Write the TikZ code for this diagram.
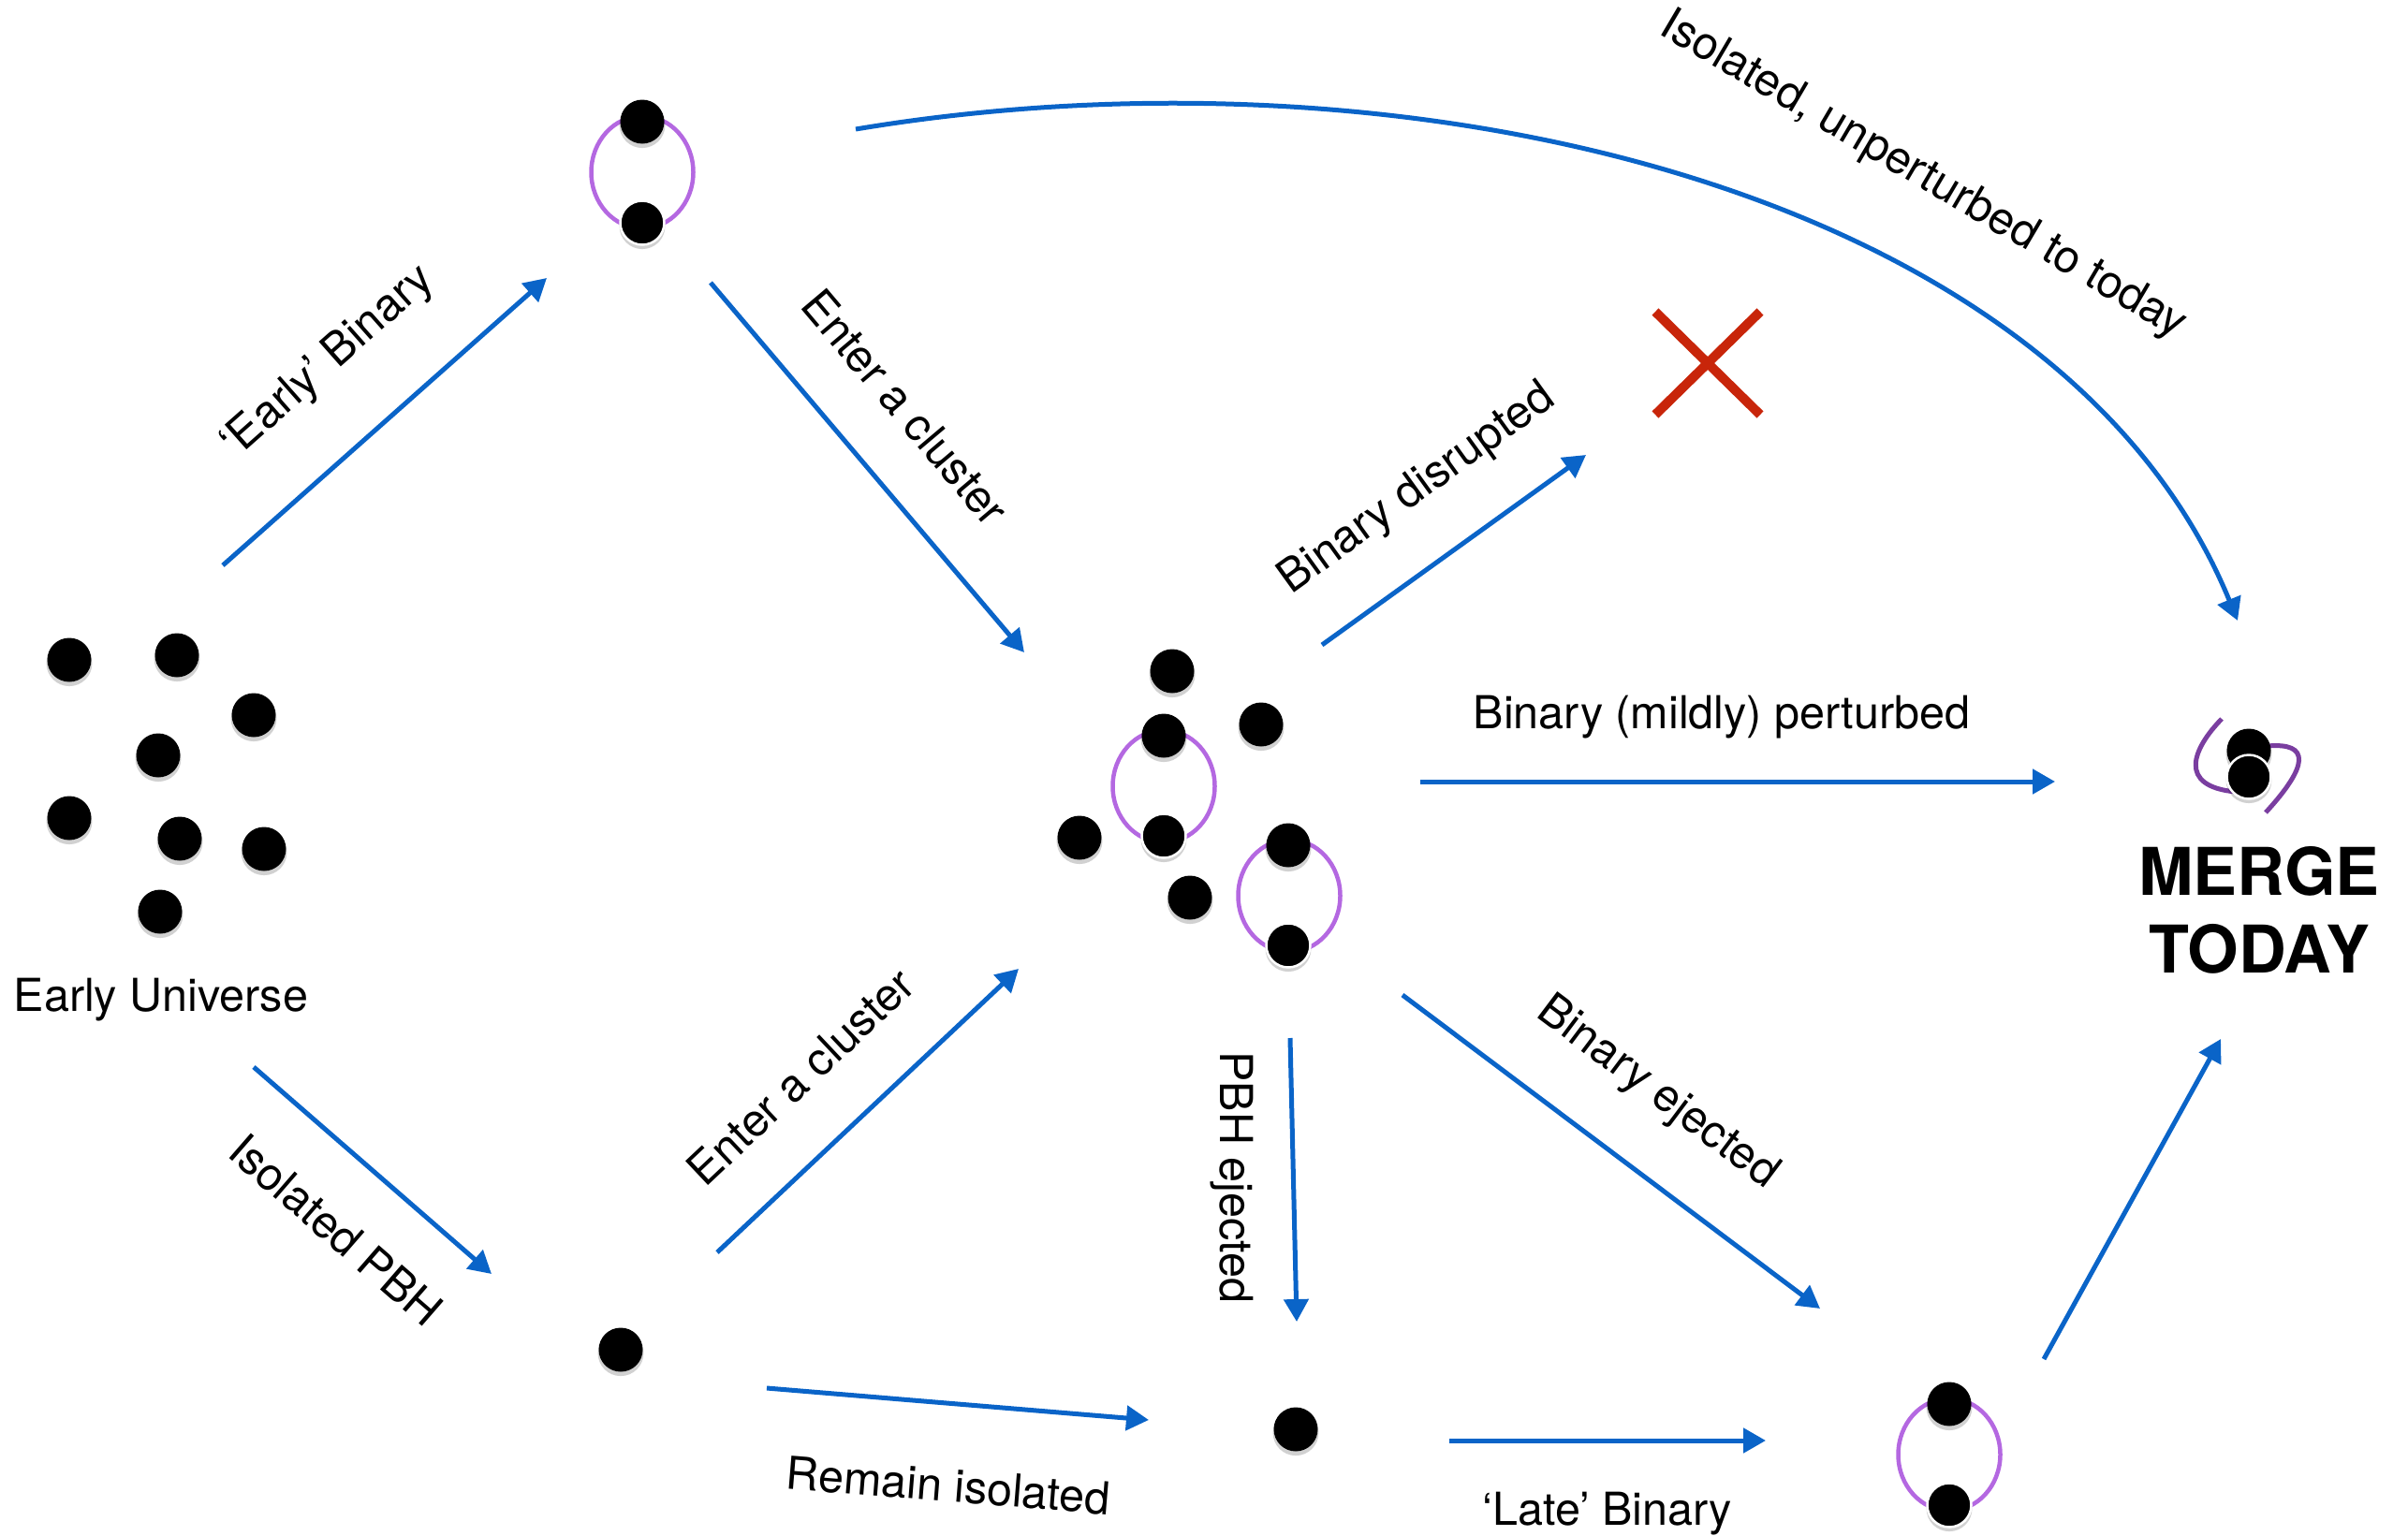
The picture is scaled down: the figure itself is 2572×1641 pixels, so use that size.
\documentclass[tikz,border=0pt]{standalone}
\usepackage{fontspec}
\setmainfont{TeX Gyre Heros}
\usetikzlibrary{arrows.meta,shapes.geometric,shadows}
\definecolor{arrowblue}{RGB}{10,100,200}
\definecolor{ringpurple}{RGB}{180,104,225}
\definecolor{mergepurple}{RGB}{122,62,160}
\definecolor{crossred}{RGB}{200,37,10}
\begin{document}
\begin{tikzpicture}[x=0.1mm,y=-0.1mm,
  pbh/.style={circle, fill=black, inner sep=0pt, minimum size=4.7mm,
    general shadow={fill=black, opacity=0.18, shadow yshift=-0.35mm, shadow scale=1.04}},
  pbhw/.style={pbh, draw=white, line width=0.25mm},
  ring/.style={ellipse, draw=ringpurple, line width=0.45mm, minimum width=10.9mm, minimum height=12mm, inner sep=0pt},
  flow/.style={draw=arrowblue, line width=0.5mm, -{Triangle[length=2.4mm,width=2.6mm]}},
  lbl/.style={font=\fontsize{13.8pt}{16.5pt}\selectfont, inner sep=0pt},
  mergearc/.style={draw=mergepurple, line width=0.5mm},
  cross/.style={draw=crossred, line width=1mm},
]
\useasboundingbox (0,0) rectangle (2572,1641);

% Early universe
\node[pbh] (eu1) at (74,705) {};
\node[pbh] (eu2) at (189,700) {};
\node[pbh] (eu3) at (271,764) {};
\node[pbh] (eu4) at (169,807) {};
\node[pbh] (eu5) at (74,874) {};
\node[pbh] (eu6) at (192,896) {};
\node[pbh] (eu7) at (282,907) {};
\node[pbh] (eu8) at (171,974) {};
\node[lbl] (eulbl) at (172,1068) {Early Universe};

% Early binary
\node[ring] (ringA) at (686,184) {};
\node[pbh] (bA1) at (686,130) {};
\node[pbhw] (bA2) at (686,238) {};

% Cluster
\node[ring] (ringC1) at (1243,840) {};
\node[ring] (ringC2) at (1377,957) {};
\node[pbh] (cA) at (1252,717) {};
\node[pbh] (cC) at (1347,774) {};
\node[pbh] (cE) at (1153,895) {};
\node[pbh] (cF) at (1271,959) {};
\node[pbh] (c1t) at (1243,786) {};
\node[pbhw] (c1b) at (1243,893) {};
\node[pbh] (c2t) at (1376,903) {};
\node[pbhw] (c2b) at (1376,1010) {};

% Isolated PBH and ejected PBH
\node[pbh] (iso) at (663,1442) {};
\node[pbh] (ej) at (1384,1527) {};

% Late binary
\node[ring] (ringL) at (2082,1554) {};
\node[pbh] (bL1) at (2082,1500) {};
\node[pbhw] (bL2) at (2082,1608) {};

% Merge icon
\draw[mergearc] (2373,768) .. controls (2342,800) and (2325,840) .. (2388,846);
\draw[mergearc] (2422,797) .. controls (2468,793) and (2466,818) .. (2420,868);
\node[pbh] (m1) at (2402,802) {};
\node[pbhw] (m2) at (2402,830) {};
\node[font=\bfseries\fontsize{20pt}{23.6pt}\selectfont, align=center, inner sep=0pt] (merge) at (2413,972) {MERGE\\TODAY};

% Red cross
\draw[cross] (1768,333) -- (1880,443);
\draw[cross] (1880,333) -- (1768,443);

% Arrow end points
\coordinate (a1s) at (238,604);   \coordinate (a1e) at (584,297);
\coordinate (a2s) at (271,1140);  \coordinate (a2e) at (525,1361);
\coordinate (a3s) at (759,302);   \coordinate (a3e) at (1094,697);
\coordinate (a4s) at (766,1338);  \coordinate (a4e) at (1088,1035);
\coordinate (a5s) at (819,1483);  \coordinate (a5e) at (1227,1517);
\coordinate (a6s) at (914,138);   \coordinate (a6e) at (2390,663);
\coordinate (a7s) at (1412,689);  \coordinate (a7e) at (1694,486);
\coordinate (a8s) at (1517,835);  \coordinate (a8e) at (2195,835);
\coordinate (a9s) at (1378,1109); \coordinate (a9e) at (1385,1412);
\coordinate (a10s) at (1498,1063); \coordinate (a10e) at (1944,1398);
\coordinate (a11s) at (1548,1539); \coordinate (a11e) at (1886,1539);
\coordinate (a12s) at (2183,1452); \coordinate (a12e) at (2372,1110);

\draw[flow] (a1s) -- (a1e);
\draw[flow] (a2s) -- (a2e);
\draw[flow] (a3s) -- (a3e);
\draw[flow] (a4s) -- (a4e);
\draw[flow] (a5s) -- (a5e);
\draw[flow] (a6s) .. controls (1500,40) and (2200,200) .. (a6e);
\draw[flow] (a7s) -- (a7e);
\draw[flow] (a8s) -- (a8e);
\draw[flow] (a9s) -- (a9e);
\draw[flow] (a10s) -- (a10e);
\draw[flow] (a11s) -- (a11e);
\draw[flow] (a12s) -- (a12e);

% Labels
\node[lbl, rotate=41.5] (l1) at (351,387) {‘Early’ Binary};
\node[lbl, rotate=-41] (l2) at (359,1314) {Isolated PBH};
\node[lbl, rotate=-49.8] (l3) at (967,435) {Enter a cluster};
\node[lbl, rotate=43.3] (l4) at (855,1150) {Enter a cluster};
\node[lbl, rotate=-4.6] (l5) at (1013,1587) {Remain isolated};
\node[lbl, rotate=-30.5] (l6) at (2054,188) {Isolated, unperturbed to today};
\node[lbl, rotate=35.8] (l7) at (1514,523) {Binary disrupted};
\node[lbl] (l8) at (1839,766) {Binary (mildly) perturbed};
\node[lbl, rotate=-90] (l9) at (1316,1258) {PBH ejected};
\node[lbl, rotate=-36.9] (l10) at (1770,1168) {Binary ejected};
\node[lbl] (l11) at (1717,1617) {‘Late’ Binary};
\end{tikzpicture}
\end{document}
